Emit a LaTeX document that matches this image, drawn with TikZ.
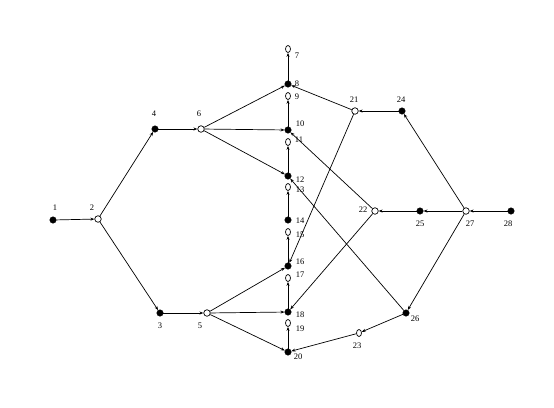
\documentclass[tikz,border=0pt]{standalone}
\usepackage{fontspec}
\setmainfont{Liberation Serif}
\usetikzlibrary{arrows.meta,shapes.geometric}
\begin{document}
\begin{tikzpicture}[x=1pt,y=-1pt,
  fnode/.style={circle,fill=black,draw=black,inner sep=0pt,minimum size=6.5pt},
  onode/.style={ellipse,draw=black,fill=white,line width=0.7pt,inner sep=0pt,minimum width=5pt,minimum height=7pt},
  cnode/.style={circle,draw=black,fill=white,line width=0.7pt,inner sep=0pt,minimum size=6.5pt},
  lab/.style={font=\fontsize{8.5}{9}\selectfont,inner sep=0pt},
  edge/.style={line width=0.7pt,-{Stealth[length=4pt,width=3pt]}},
]
\useasboundingbox (0,0) rectangle (554,407);
% nodes
\node[fnode] (n1) at (53,220) {};
\node[cnode] (n2) at (98,219) {};
\node[fnode] (n4) at (155,129) {};
\node[cnode] (n6) at (201,129) {};
\node[fnode] (n3) at (160,313) {};
\node[cnode] (n5) at (207,313) {};
\node[onode] (n7) at (288,49) {};
\node[fnode] (n8) at (288,84) {};
\node[onode] (n9) at (288,96) {};
\node[fnode] (n10) at (288,130) {};
\node[onode] (n11) at (288,142) {};
\node[fnode] (n12) at (288,176) {};
\node[onode] (n13) at (288,187) {};
\node[fnode] (n14) at (288,220) {};
\node[onode] (n15) at (288,232) {};
\node[fnode] (n16) at (288,266) {};
\node[onode] (n17) at (288,278) {};
\node[fnode] (n18) at (288,312) {};
\node[onode] (n19) at (288,323) {};
\node[fnode] (n20) at (288,352) {};
\node[cnode] (n21) at (355,111) {};
\node[fnode] (n24) at (402,111) {};
\node[cnode] (n22) at (375,211) {};
\node[fnode] (n25) at (420,211) {};
\node[cnode] (n27) at (466,211) {};
\node[fnode] (n28) at (511,211) {};
\node[fnode] (n26) at (406,313) {};
\node[onode] (n23) at (359,333) {};
% labels
\node[lab] (l1) at (55,208) {1};
\node[lab] (l2) at (92,208) {2};
\node[lab] (l4) at (154,114) {4};
\node[lab] (l6) at (199,114) {6};
\node[lab] (l3) at (160,326) {3};
\node[lab] (l5) at (200,326) {5};
\node[lab] (l7) at (297,56) {7};
\node[lab] (l8) at (297,84) {8};
\node[lab] (l9) at (297,97) {9};
\node[lab] (l10) at (300,124) {10};
\node[lab] (l11) at (299,140) {11};
\node[lab] (l12) at (300,180) {12};
\node[lab] (l13) at (300,190) {13};
\node[lab] (l14) at (300,221) {14};
\node[lab] (l15) at (300,235) {15};
\node[lab] (l16) at (300,262) {16};
\node[lab] (l17) at (300,275) {17};
\node[lab] (l18) at (300,315) {18};
\node[lab] (l19) at (300,329) {19};
\node[lab] (l20) at (298,357) {20};
\node[lab] (l21) at (354,100) {21};
\node[lab] (l24) at (401,100) {24};
\node[lab] (l22) at (363,210) {22};
\node[lab] (l25) at (420,224) {25};
\node[lab] (l27) at (470,224) {27};
\node[lab] (l28) at (508,224) {28};
\node[lab] (l26) at (415,319) {26};
\node[lab] (l23) at (357,346) {23};
% edges
\draw[edge] (n1) -- (n2);
\draw[edge] (n2) -- (n4);
\draw[edge] (n2) -- (n3);
\draw[edge] (n4) -- (n6);
\draw[edge] (n3) -- (n5);
\draw[edge] (n6) -- (n8);
\draw[edge] (n6) -- (n10);
\draw[edge] (n6) -- (n12);
\draw[edge] (n5) -- (n16);
\draw[edge] (n5) -- (n18);
\draw[edge] (n5) -- (n20);
\draw[edge] (n8) -- (n7);
\draw[edge] (n10) -- (n9);
\draw[edge] (n12) -- (n11);
\draw[edge] (n14) -- (n13);
\draw[edge] (n16) -- (n15);
\draw[edge] (n18) -- (n17);
\draw[edge] (n20) -- (n19);
\draw[edge] (n21) -- (n8);
\draw[edge] (n24) -- (n21);
\draw[edge] (n21) -- (n16);
\draw[edge] (n22) -- (n10);
\draw[edge] (n22) -- (n18);
\draw[edge] (n26) -- (n12);
\draw[edge] (n27) -- (n24);
\draw[edge] (n27) -- (n26);
\draw[edge] (n28) -- (n27);
\draw[edge] (n27) -- (n25);
\draw[edge] (n25) -- (n22);
\draw[edge] (n26) -- (n23);
\draw[edge] (n23) -- (n20);
\end{tikzpicture}
\end{document}
